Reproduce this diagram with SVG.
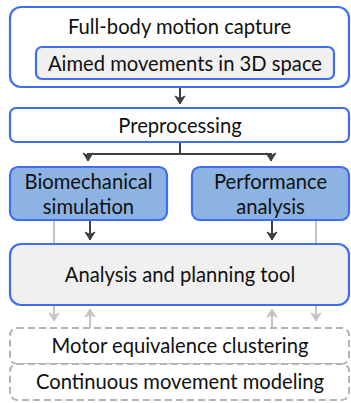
<svg xmlns="http://www.w3.org/2000/svg" width="351" height="403" viewBox="0 0 351 403">
<style>
.t{font-family:Lato,"Open Sans",sans-serif;font-size:20.2px;fill:#111;text-anchor:middle}
.bx{stroke:#3f6ef2;stroke-width:2.2}
.white{fill:#fff}
.gray{fill:#f0f0f0}
.blue{fill:#8db3e2}
.dash{fill:#fff;stroke:#b4b4b4;stroke-width:2;stroke-dasharray:7 4}
.dk{stroke:#404040;stroke-width:2;fill:none}
.lg{stroke:#c4c4c4;stroke-width:2;fill:none}
</style>
<defs>
<marker id="ad" markerUnits="userSpaceOnUse" markerWidth="12" markerHeight="12" viewBox="-9 -6 11 12" refX="0" refY="0" orient="auto">
<path d="M-8,-5 L0,0 L-8,5 L-5.5,0 Z" fill="#404040" stroke="#404040" stroke-width="1" stroke-linejoin="round"/>
</marker>
<marker id="ag" markerUnits="userSpaceOnUse" markerWidth="12" markerHeight="12" viewBox="-9 -6 11 12" refX="0" refY="0" orient="auto">
<path d="M-8,-5 L0,0 L-8,5 L-5.5,0 Z" fill="#c4c4c4" stroke="#c4c4c4" stroke-width="1" stroke-linejoin="round"/>
</marker>
</defs>

<g id="connectors">
<path class="dk" d="M180,88 V104" marker-end="url(#ad)"/>
<path class="dk" d="M180,142 V154 M88,154 H271"/>
<path class="dk" d="M88,153 V161" marker-end="url(#ad)"/>
<path class="dk" d="M271,153 V161" marker-end="url(#ad)"/>
<path class="lg" d="M54,221 V244"/>
<path class="lg" d="M316,221 V244"/>
<path class="dk" d="M90,221 V240" marker-end="url(#ad)"/>
<path class="dk" d="M272,221 V240" marker-end="url(#ad)"/>
<path class="lg" d="M54,306 V321" marker-end="url(#ag)"/>
<path class="lg" d="M90,328 V309" marker-end="url(#ag)"/>
<path class="lg" d="M272,328 V309" marker-end="url(#ag)"/>
<path class="lg" d="M316,306 V321" marker-end="url(#ag)"/>
</g>

<g id="motion-capture">
<rect class="bx white" x="10" y="7" width="339" height="80" rx="11"/>
<text class="t" x="179.5" y="34">Full-body motion capture</text>
</g>
<g id="aimed-movements">
<rect class="bx gray" x="36" y="47" width="298" height="32" rx="6"/>
<text class="t" x="185" y="70.5">Aimed movements in 3D space</text>
</g>
<g id="preprocessing">
<rect class="bx white" x="10" y="108" width="339" height="34" rx="6"/>
<text class="t" x="180" y="132.5">Preprocessing</text>
</g>
<g id="biomechanical-simulation">
<rect class="bx blue" x="10" y="167" width="157" height="53" rx="8"/>
<text class="t" x="88.5" y="188.5">Biomechanical</text>
<text class="t" x="88.5" y="213.5">simulation</text>
</g>
<g id="performance-analysis">
<rect class="bx blue" x="192" y="167" width="157" height="53" rx="8"/>
<text class="t" x="270.5" y="188.5">Performance</text>
<text class="t" x="270.5" y="213.5">analysis</text>
</g>
<g id="analysis-tool">
<rect class="bx gray" x="10" y="244" width="339" height="61" rx="11"/>
<text class="t" x="180" y="282">Analysis and planning tool</text>
</g>
<g id="motor-equivalence">
<rect class="dash" x="10" y="328" width="339" height="36" rx="7"/>
<text class="t" x="180" y="352.5">Motor equivalence clustering</text>
</g>
<g id="continuous-modeling">
<rect class="dash" x="10" y="364" width="339" height="36" rx="7"/>
<text class="t" x="180" y="388.5">Continuous movement modeling</text>
</g>
</svg>
